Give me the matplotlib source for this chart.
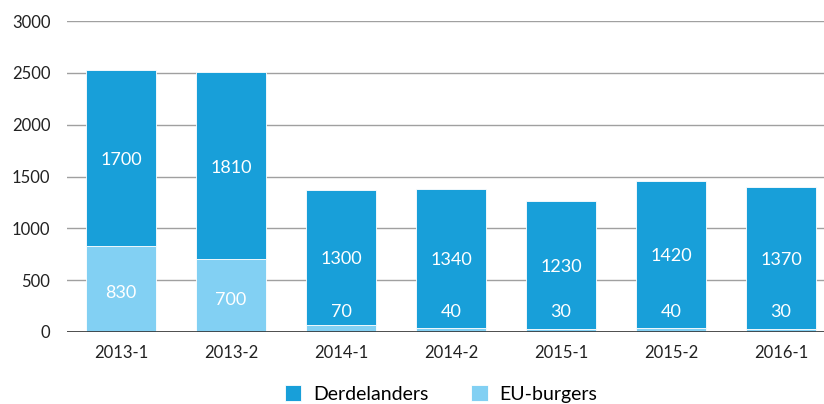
import matplotlib.pyplot as plt
import numpy as np

periods = ["2013-1", "2013-2", "2014-1", "2014-2", "2015-1", "2015-2", "2016-1"]
eu_burgers = [830, 700, 70, 40, 30, 40, 30]
derdelanders = [1700, 1810, 1300, 1340, 1230, 1420, 1370]

darkBlue = "#189fd9"
lightBlue = "#82d0f3"

plt.rcParams['font.family'] = ['Lato', 'DejaVu Sans']

fig = plt.figure(figsize=(8.24, 4.04), dpi=100)
ax = fig.add_axes([67 / 824, 1 - 332 / 404, 1 - 67 / 824, (332 - 21) / 404])

x = np.arange(len(periods))
widthOfBar = 0.64
ax.bar(x, eu_burgers, widthOfBar, color=lightBlue, edgecolor="white", linewidth=0.6,
       label="EU-burgers", zorder=3)
ax.bar(x, derdelanders, widthOfBar, bottom=eu_burgers, color=darkBlue, edgecolor="white",
       linewidth=0.6, label="Derdelanders", zorder=3)

for i in range(len(periods)):
    low = eu_burgers[i]
    high = derdelanders[i]
    ax.text(x[i], low + high / 2 - 20, str(high), color="white", fontsize=13,
            ha="center", va="center", zorder=4)
    yLow = low / 2 - 40 if low > 300 else 190
    ax.text(x[i], yLow, str(low), color="white", fontsize=13,
            ha="center", va="center", zorder=4)

ax.set_ylim(0, 3000)
ax.set_xlim(-0.49, 6.39)
ax.set_yticks(range(0, 3001, 500))
ax.set_xticks(x)
ax.set_xticklabels(periods)
ax.tick_params(length=0, labelsize=12, colors="#222222")
ax.tick_params(axis="y", pad=12)
ax.tick_params(axis="x", pad=9)
ax.grid(axis="y", color="#a0a0a0", linewidth=1, zorder=0)
ax.axhline(0, color="#333333", linewidth=1.2, zorder=5)
for s in ax.spines.values():
    s.set_visible(False)

handles, labels = ax.get_legend_handles_labels()
fig.legend(handles[::-1], labels[::-1], loc="lower center", bbox_to_anchor=(0.535, -0.04),
           ncol=2, frameon=False, fontsize=14, handlelength=0.85, handleheight=0.85,
           columnspacing=2.2, handletextpad=0.6)

fig.savefig("out.png", dpi=100)
